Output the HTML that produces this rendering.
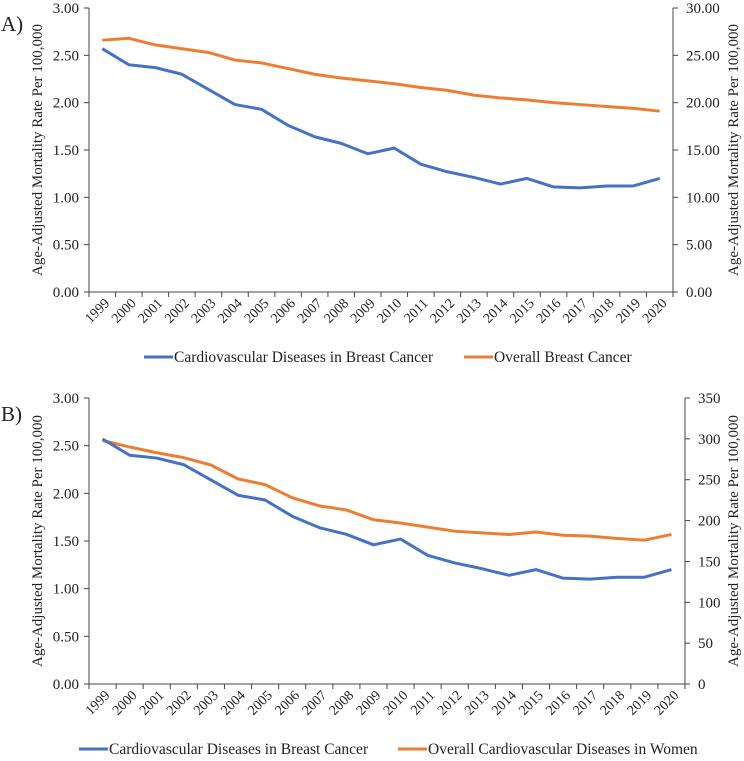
<!DOCTYPE html>
<html><head><meta charset="utf-8"><style>
body{margin:0;background:#fff;}
svg text{font-family:"Liberation Serif",serif;fill:#222;}
</style></head><body>
<svg id="s" width="744" height="756" xmlns="http://www.w3.org/2000/svg"></svg>
<script>
const years=["1999","2000","2001","2002","2003","2004","2005","2006","2007","2008","2009","2010","2011","2012","2013","2014","2015","2016","2017","2018","2019","2020"];
const cvdBreast=[2.57,2.40,2.37,2.30,2.14,1.98,1.93,1.76,1.64,1.57,1.46,1.52,1.35,1.27,1.21,1.14,1.20,1.11,1.10,1.12,1.12,1.20];
const overallBreast=[26.6,26.8,26.1,25.7,25.3,24.5,24.2,23.6,23.0,22.6,22.3,22.0,21.6,21.3,20.8,20.5,20.3,20.0,19.8,19.6,19.4,19.1];
const overallCvdWomen=[298,290,283,277,268,251,244,228,218,213,201,197,192,187,185,183,186,182,181,178,176,183];
const leftTicks=["0.00","0.50","1.00","1.50","2.00","2.50","3.00"];
const rightTicksA=["0.00","5.00","10.00","15.00","20.00","25.00","30.00"];
const rightTicksB=["0","50","100","150","200","250","300","350"];
const NS="http://www.w3.org/2000/svg";
const svg=document.getElementById('s');
function el(t,a,p){const e=document.createElementNS(NS,t);for(const k in a)e.setAttribute(k,a[k]);(p||svg).appendChild(e);return e;}
function chart(o){
  const g=el('g',{});
  
  
  const x0=o.x0,x1=o.x1,yb=o.yb,yt=o.yt,n=years.length,cw=(x1-x0)/n;
  const xs=i=>x0+cw*(i+0.5);
  const yl=v=>yb-(v/o.lmax)*(yb-yt);
  const yr=v=>yb-(v/o.rmax)*(yb-yt);
  const lbl=el('text',{x:1,y:o.yt+23,'font-size':21},g);lbl.textContent=o.panel;
  
  const ax=el('path',{d:`M${x0},${yt}V${yb}H${x1}V${yt}`,stroke:'#444',fill:'none','stroke-width':1},g);
  
  for(let i=0;i<=n;i++){el('line',{x1:x0+cw*i,x2:x0+cw*i,y1:yb,y2:yb+5,stroke:'#444'},g);}
  leftTicks.forEach((t,i)=>{const v=i*0.5;el('line',{x1:x0-5,x2:x0,y1:yl(v),y2:yl(v),stroke:'#444'},g);
    const e=el('text',{x:x0-10,y:yl(v)+5,'font-size':15,'text-anchor':'end'},g);e.textContent=t;
    });
  o.rticks.forEach((t,i)=>{const v=i*o.rstep;el('line',{x1:x1,x2:x1+5,y1:yr(v),y2:yr(v),stroke:'#444'},g);
    const e=el('text',{x:x1+13,y:yr(v)+5,'font-size':15},g);e.textContent=t;
    });
  years.forEach((y,i)=>{const ax_=xs(i)+8,ay=yb+12;const e=el('text',{x:ax_,y:ay,'font-size':14,'text-anchor':'end',transform:`rotate(-45 ${ax_} ${ay})`},g);e.textContent=y;
    });
  const cy=(yb+yt)/2;
  let e=el('text',{x:0,y:0,'font-size':15,'text-anchor':'middle',transform:`translate(42 ${cy}) rotate(-90)`},g);e.textContent='Age-Adjusted Mortality Rate Per 100,000';
  
  e=el('text',{x:0,y:0,'font-size':15,'text-anchor':'middle',transform:`translate(738 ${cy}) rotate(-90)`},g);e.textContent='Age-Adjusted Mortality Rate Per 100,000';
  
  let p=el('polyline',{points:o.right.map((v,i)=>xs(i)+','+yr(v)).join(' '),fill:'none',stroke:'#ED7D31','stroke-width':3,'stroke-linejoin':'round'},g);
  
  p=el('polyline',{points:cvdBreast.map((v,i)=>xs(i)+','+yl(v)).join(' '),fill:'none',stroke:'#4472C4','stroke-width':3,'stroke-linejoin':'round'},g);
  
  const ly=o.ly;
  el('line',{x1:o.lx1,x2:o.lx1+29,y1:ly,y2:ly,stroke:'#4472C4','stroke-width':3},g);
  e=el('text',{x:o.lx1+30,y:ly+5,'font-size':15.5},g);e.textContent='Cardiovascular Diseases in Breast Cancer';
  
  el('line',{x1:o.lx2,x2:o.lx2+29,y1:ly,y2:ly,stroke:'#ED7D31','stroke-width':3},g);
  e=el('text',{x:o.lx2+30,y:ly+5,'font-size':15.5},g);e.textContent=o.rlabel;
  
}
chart({name:'chart-a',panel:'A)',x0:89,x1:673,yt:8,yb:292,lmax:3,rmax:30,rstep:5,rticks:rightTicksA,right:overallBreast,ly:357,lx1:144,lx2:464,rlabel:'Overall Breast Cancer'});
chart({name:'chart-b',panel:'B)',x0:89,x1:685,yt:398,yb:684,lmax:3,rmax:350,rstep:50,rticks:rightTicksB,right:overallCvdWomen,ly:749,lx1:79,lx2:398,rlabel:'Overall Cardiovascular Diseases in Women'});
</script>
</body></html>
